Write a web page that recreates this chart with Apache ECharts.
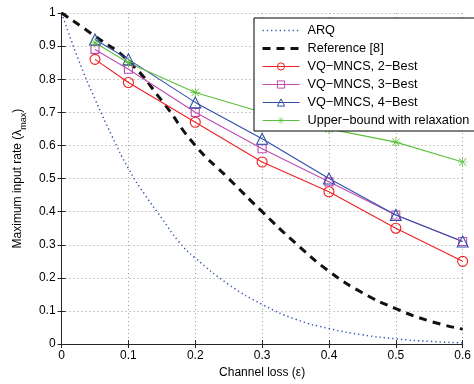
<!DOCTYPE html>
<html><head><meta charset="utf-8">
<script src="https://cdn.jsdelivr.net/npm/echarts@6/dist/echarts.min.js"></script>
<style>html,body{margin:0;padding:0;background:#fff}#c{width:474px;height:384px}</style>
</head><body><div id="c"></div>
<script>
// ---- data ----
const epsPoints = [0.05, 0.1, 0.2, 0.3, 0.4, 0.5, 0.6];
const best2 = [0.86, 0.79, 0.67, 0.55, 0.46, 0.35, 0.25];
const best3 = [0.89, 0.83, 0.70, 0.59, 0.49, 0.39, 0.31];
const best4 = [0.92, 0.86, 0.73, 0.62, 0.50, 0.39, 0.31];
const upper = [0.91, 0.85, 0.76, 0.70, 0.65, 0.61, 0.55];
const arqX = [0, 0.025, 0.05, 0.075, 0.1, 0.125, 0.15, 0.175, 0.2, 0.25, 0.3, 0.35, 0.4, 0.45, 0.5, 0.55, 0.6];
const arqY = [1.0, 0.86, 0.74, 0.63, 0.53, 0.45, 0.38, 0.31, 0.26, 0.18, 0.12, 0.075, 0.047, 0.028, 0.016, 0.008, 0.004];
const refX = [0, 0.05, 0.1, 0.15, 0.2, 0.25, 0.3, 0.35, 0.4, 0.45, 0.5, 0.55, 0.6];
const refY = [1.0, 0.93, 0.855, 0.735, 0.60, 0.50, 0.40, 0.305, 0.22, 0.155, 0.107, 0.07, 0.045];
const xTicks = [0, 0.1, 0.2, 0.3, 0.4, 0.5, 0.6];
const yTicks = [0, 0.1, 0.2, 0.3, 0.4, 0.5, 0.6, 0.7, 0.8, 0.9, 1];
const names = ['ARQ', 'Reference [8]', 'VQ\u2212MNCS, 2\u2212Best', 'VQ\u2212MNCS, 3\u2212Best', 'VQ\u2212MNCS, 4\u2212Best', 'Upper\u2212bound with relaxation'];

const pairs = (xs, ys) => xs.map((x, i) => [x, ys[i]]);
const FONT = 'Liberation Sans';
const AX = '#262626';
const asterisk = 'path://M9.3 0L10.7 0L10.7 20L9.3 20ZM0 9.3L20 9.3L20 10.7L0 10.7ZM2.2 3.2L3.2 2.2L17.8 16.8L16.8 17.8ZM16.8 2.2L17.8 3.2L3.2 17.8L2.2 16.8Z';

const chart = echarts.init(document.getElementById('c'), null, {renderer: 'canvas'});
const baseX = {type: 'value', min: 0, max: 0.6, interval: 0.1};
const baseY = {type: 'value', min: 0, max: 1, interval: 0.1};
const markerLine = (name, ys, color, symbol, size, filled) => ({
  name, type: 'line', data: pairs(epsPoints, ys), symbol, symbolSize: size,
  lineStyle: {color, width: 1.1, type: 'solid'},
  itemStyle: filled ? {color, borderWidth: 0} : {color: 'rgba(255,255,255,0)', borderColor: color, borderWidth: 1.1},
  emphasis: {disabled: true},
  z: 3
});
chart.setOption({
  animation: false,
  backgroundColor: '#fff',
  textStyle: {fontFamily: FONT},
  grid: {left: 61, right: 9, top: 13, bottom: 35},
  xAxis: [
    Object.assign({}, baseX, {
      position: 'bottom',
      name: 'Channel loss (\u03b5)', nameLocation: 'middle', nameGap: 21,
      nameTextStyle: {fontFamily: FONT, fontSize: 12, color: '#000'},
      axisLine: {lineStyle: {color: AX, width: 1}},
      axisTick: {inside: true, length: 4, lineStyle: {color: AX}},
      axisLabel: {fontFamily: FONT, fontSize: 12, color: '#000', margin: 6,
        formatter: v => { const t = xTicks.find(k => Math.abs(k - v) < 1e-9); return t === undefined ? '' : String(t); }},
      splitLine: {show: true, lineStyle: {color: '#9a9a9a', type: [1, 3], width: 1}}
    }),
    Object.assign({}, baseX, {
      position: 'top',
      axisLine: {lineStyle: {color: AX, width: 1}},
      axisTick: {inside: true, length: 4, lineStyle: {color: AX}},
      axisLabel: {show: false}, splitLine: {show: false}
    })
  ],
  yAxis: [
    Object.assign({}, baseY, {
      position: 'left',
      name: 'Maximum input rate (\u03bb{sub|max})', nameLocation: 'middle', nameGap: 30, nameRotate: 90,
      nameTextStyle: {fontFamily: FONT, fontSize: 12, color: '#000', lineHeight: 20,
        rich: {sub: {fontFamily: FONT, fontSize: 9, color: '#000', lineHeight: 12, verticalAlign: 'bottom'}}},
      axisLine: {lineStyle: {color: AX, width: 1}},
      axisTick: {inside: true, length: 4, lineStyle: {color: AX}},
      axisLabel: {fontFamily: FONT, fontSize: 12, color: '#000', margin: 6,
        formatter: v => { const t = yTicks.find(k => Math.abs(k - v) < 1e-9); return t === undefined ? '' : String(t); }},
      splitLine: {show: true, lineStyle: {color: '#9a9a9a', type: [1, 3], width: 1}}
    }),
    Object.assign({}, baseY, {
      position: 'right',
      axisLine: {lineStyle: {color: AX, width: 1}},
      axisTick: {inside: true, length: 4, lineStyle: {color: AX}},
      axisLabel: {show: false}, splitLine: {show: false}
    })
  ],
  legend: {
    orient: 'vertical', left: 254, top: 18,
    padding: [6, 6, 4, 7],
    backgroundColor: '#fff', borderColor: '#000', borderWidth: 1, borderRadius: 0,
    itemWidth: 37, itemHeight: 9, itemGap: 5,
    textStyle: {fontFamily: FONT, fontSize: 12.7, color: '#000', padding: [0, 0, 0, 3]},
    lineStyle: {width: 1},
    itemStyle: {borderWidth: 1},
    data: [
      {name: names[0], itemStyle: {opacity: 0}, lineStyle: {width: 1.5}},
      {name: names[1], itemStyle: {opacity: 0}, lineStyle: {width: 3}},
      names[2], names[3], names[4], names[5]
    ],
    selectedMode: false
  },
  series: [
    {name: names[0], type: 'line', data: pairs(arqX, arqY), symbol: 'none', smooth: true,
      lineStyle: {color: '#3556b0', width: 1.5, type: [1.3, 3]}, itemStyle: {color: '#3556b0'}, z: 2},
    {name: names[1], type: 'line', data: pairs(refX, refY), symbol: 'none', smooth: true,
      lineStyle: {color: '#111', width: 3, type: [8, 6]}, itemStyle: {color: '#111'}, z: 2},
    markerLine(names[2], best2, '#f02020', 'circle', 10, false),
    markerLine(names[3], best3, '#c04cb0', 'rect', 8, false),
    markerLine(names[4], best4, '#3050a8', 'triangle', 11, false),
    markerLine(names[5], upper, '#5cc03c', asterisk, 10, true)
  ]
});
</script></body></html>
